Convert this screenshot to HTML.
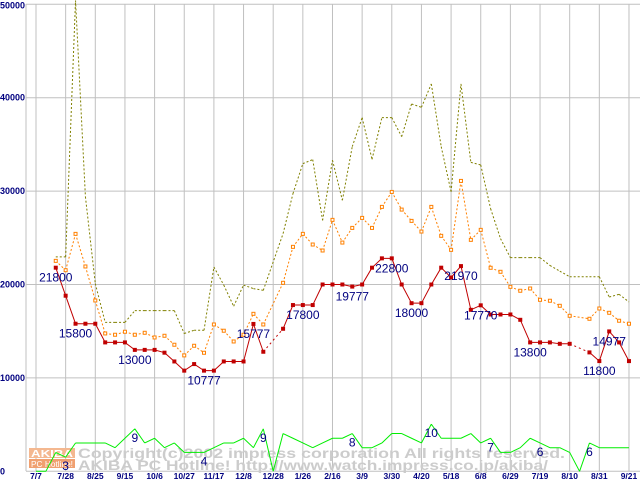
<!DOCTYPE html>
<html><head><meta charset="utf-8"><style>
html,body{margin:0;padding:0;background:#fff;}
svg{display:block;}
text{font-family:"Liberation Sans",sans-serif;}
</style></head><body>
<svg id="chart" width="640" height="480" viewBox="0 0 640 480" xmlns="http://www.w3.org/2000/svg">
<g id="grid"></g>
<g id="wm">
  <rect x="29" y="448" width="46" height="10" fill="#f4b890"/>
  <text x="31" y="457" font-size="10" font-weight="bold" fill="#fff" textLength="42" lengthAdjust="spacingAndGlyphs" font-family="Liberation Mono, monospace">AKIBA</text>
  <rect x="29" y="459" width="46" height="9" fill="#f0a070"/>
  <text x="31" y="467" font-size="8" fill="#fff" textLength="42" lengthAdjust="spacingAndGlyphs" font-family="Liberation Mono, monospace">PC Hotline!</text>
  <text x="78" y="458" font-size="14" font-weight="bold" fill="#cccccc" textLength="487" lengthAdjust="spacingAndGlyphs" font-family="Liberation Mono, monospace">Copyright(c)2002 impress corporation All rights reserved.</text>
  <text x="78" y="470" font-size="14" font-weight="bold" fill="#cccccc" textLength="470" lengthAdjust="spacingAndGlyphs" font-family="Liberation Mono, monospace">AKIBA PC Hotline! http://www.watch.impress.co.jp/akiba/</text>
</g>
<g id="series"></g>
<g id="labels"></g>
</svg>
<script>
const xLabels = ["7/7","7/28","8/25","9/15","10/6","10/27","11/17","12/8","12/28","1/26","2/16","3/9","3/30","4/20","5/18","6/8","6/29","7/19","8/10","8/31","9/21"];
const yTicks = [0,10000,20000,30000,40000,50000];
const lowPrice = [null,null,21800,18800,15800,15800,15800,13800,13800,13800,13000,13000,13000,12700,11760,10777,11480,10777,10777,11760,11760,11760,15777,12800,null,15260,17800,17800,17800,20000,20000,20000,19777,20000,21800,22800,22800,20000,18000,18000,20000,21800,20750,21970,17290,17770,16790,16790,16790,16220,13800,13800,13800,13650,13650,null,12730,11800,14977,13800,11800];
const avgPrice = [null,null,22530,21530,25420,21930,18290,14760,14620,14940,14620,14830,14330,14510,13550,12410,13440,12690,15720,15050,13900,14620,16860,15720,null,20180,24030,25420,24280,23640,26920,24490,26060,27130,26060,28310,29910,28020,26810,25670,28310,25210,23710,31090,24780,25850,21790,21360,19750,19330,19570,18360,18260,17720,16650,null,16330,17430,16970,16120,15800];
const maxPrice = [null,null,22960,22960,50400,29400,20100,15950,15950,15950,17200,17200,17200,17200,17200,14750,15100,15100,21870,19940,17670,19940,19560,19380,null,25450,29730,32940,33370,26860,33310,29010,34760,37870,33400,37870,37870,35830,39330,38970,41470,34760,29920,41470,33080,32800,28120,24910,22880,22880,22880,22880,22040,21430,20830,null,20830,20830,18660,18950,18130];
const shopCount = [0,0,4,3,6,6,6,6,5,7,9,6,7,5,6,4,4,4,5,6,6,7,5,9,0,8,7,6,5,6,7,7,8,5,5,6,8,8,7,6,10,7,7,7,8,6,7,4,4,5,7,6,5,5,4,0,6,5,5,5,5];
const priceLabelIdx = [2,4,10,17,22,27,32,36,38,43,45,50,57,58];
const priceLabelText = ["21800","15800","13000","10777","15777","17800","19777","22800","18000","21970","17770","13800","11800","14977"];
const countLabelIdx = [3,10,17,23,32,40,46,51,56];

const NS="http://www.w3.org/2000/svg";
const X0=36, DX=9.883, Y0=471.3, PY=93.4/10000, CY=4.72;
function xs(i){return X0+i*DX;}
function ys(v){return Y0-v*PY;}
function yc(c){return Y0-c*CY;}
function mk(tag,attrs,parent){const e=document.createElementNS(NS,tag);for(const k in attrs)e.setAttribute(k,attrs[k]);parent.appendChild(e);return e;}
const grid=document.getElementById('grid'), ser=document.getElementById('series'), lab=document.getElementById('labels');

yTicks.forEach(function(t){
  const l=mk('line',{x1:26,x2:640,y1:ys(t),y2:ys(t),stroke:'#c0c0c0','stroke-width':1},grid);
  
  
  const tx=mk('text',{x:0,y:ys(t)+(t===50000?4:3),'font-size':9,'font-weight':'bold',fill:'#000080','font-family':'Liberation Mono, monospace'},grid);
  tx.textContent=String(t);
  
  
});
const ax=mk('line',{x1:26,x2:26,y1:4,y2:471,stroke:'#c0c0c0','stroke-width':1},grid);


xLabels.forEach(function(s,k){
  const x=xs(k*3);
  const l=mk('line',{x1:x,x2:x,y1:4,y2:471,stroke:'#c0c0c0','stroke-width':1},grid);
  
  
  const tx=mk('text',{x:x,y:479,'font-size':8.5,'font-weight':'bold',fill:'#000080','text-anchor':'middle','font-family':'Liberation Mono, monospace'},grid);
  tx.textContent=s;
  
  
});

function segments(arr,yf){
  const solid=[],gaps=[];let prev=null;
  arr.forEach(function(v,i){
    if(v===null)return;
    if(prev!==null){
      const seg=[xs(prev),yf(arr[prev]),xs(i),yf(v)];
      if(i-prev===1)solid.push(seg);else gaps.push(seg);
    }
    prev=i;
  });
  return {solid:solid,gaps:gaps};
}
function drawLine(arr,yf,color,dash,name){
  const s=segments(arr,yf);
  let d='';
  s.solid.concat(dash?s.gaps:[]).forEach(function(g){d+='M'+g[0]+' '+g[1]+'L'+g[2]+' '+g[3];});
  const attrs={d:d,fill:'none',stroke:color,'stroke-width':1};
  if(dash)attrs['stroke-dasharray']=dash;
  const p=mk('path',attrs,ser);
  
  
  if(!dash){
    let gd='';
    s.gaps.forEach(function(g){gd+='M'+g[0]+' '+g[1]+'L'+g[2]+' '+g[3];});
    const q=mk('path',{d:gd,fill:'none',stroke:color,'stroke-width':1,'stroke-dasharray':'2,3'},ser);
    
    
  }
}
drawLine(shopCount,yc,'#00ee00',null,'shop-count-line');
drawLine(maxPrice,ys,'#808000','2,2','max-price-line');
drawLine(avgPrice,ys,'#ff8000','2,2','avg-price-line');
avgPrice.forEach(function(v,i){
  if(v===null)return;
  const r=mk('rect',{x:xs(i)-1.5,y:ys(v)-1.5,width:3,height:3,fill:'#fff',stroke:'#ff8000','stroke-width':1},ser);
  
  
});
drawLine(lowPrice,ys,'#c00000',null,'low-price-line');
lowPrice.forEach(function(v,i){
  if(v===null)return;
  const r=mk('rect',{x:xs(i)-2,y:ys(v)-2,width:4,height:4,fill:'#c00000'},ser);
  
  
});
priceLabelIdx.forEach(function(i,k){
  const t=mk('text',{x:xs(i),y:ys(lowPrice[i])+14,'font-size':12,fill:'#000080','text-anchor':'middle'},lab);
  t.textContent=priceLabelText[k];
  
  
});
countLabelIdx.forEach(function(i){
  const t=mk('text',{x:xs(i),y:yc(shopCount[i])+13,'font-size':12,fill:'#000080','text-anchor':'middle'},lab);
  t.textContent=String(shopCount[i]);
  
  
});
</script>
</body></html>
